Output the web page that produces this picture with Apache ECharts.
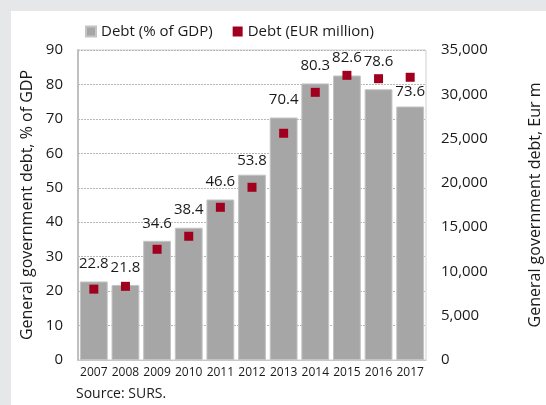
<!DOCTYPE html>
<html>
<head>
<meta charset="utf-8">
<script src="https://cdn.jsdelivr.net/npm/echarts@6/dist/echarts.min.js"></script>
<style>
body {
	margin: 0;
	background: #e6e7e8;
}
#main {
	position: absolute;
	left: 11px;
	top: 11px;
	width: 535px;
	height: 394px;
	background: #fff;
}
</style>
</head>
<body>
<div id="main"></div>
<script>
// data
const years = ['2007', '2008', '2009', '2010', '2011', '2012', '2013', '2014', '2015', '2016', '2017']
const debtPct = [22.8, 21.8, 34.6, 38.4, 46.6, 53.8, 70.4, 80.3, 82.6, 78.6, 73.6]
const debtEur = [8000, 8320, 12500, 13970, 17240, 19500, 25600, 30220, 32140, 31760, 31920]

// a few labels sit higher/lower in the original so they dodge the squares
const labelDist = { 5: 6, 9: 20, 10: 7 }

const font = 'Open Sans'
const chart = echarts.init(document.getElementById('main'))
chart.setOption({
	textStyle: { fontFamily: font },
	animation: false,
	legend: {
		left: 69,
		top: 8,
		itemWidth: 10,
		itemHeight: 10,
		itemGap: 20,
		textStyle: { fontSize: 15, color: '#1a1a1a' },
		data: [
			{ name: 'Debt (% of GDP)', icon: 'rect' },
			{ name: 'Debt (EUR million)', icon: 'rect' },
		],
	},
	grid: {
		left: 67,
		right: 120,
		top: 39,
		bottom: 45,
		outerBoundsMode: 'none',
		show: true,
		borderColor: '#cfcfcf',
		borderWidth: 1,
	},
	xAxis: {
		type: 'category',
		data: years,
		axisLine: { lineStyle: { color: '#c8c8c8' } },
		axisTick: { show: false },
		axisLabel: { fontSize: 12, color: '#1a1a1a', margin: 7, interval: 0 },
	},
	yAxis: [
		{
			type: 'value',
			min: 0,
			max: 90,
			interval: 10,
			name: 'General government debt, % of GDP',
			nameLocation: 'middle',
			nameGap: 41,
			nameTextStyle: { fontSize: 16, color: '#1a1a1a' },
			axisLine: { show: true, lineStyle: { color: '#c0c0c0', width: 2 } },
			axisTick: { show: false },
			axisLabel: { fontSize: 15, color: '#1a1a1a', margin: 15 },
			splitLine: { lineStyle: { color: '#b8b8b8', type: [2, 1] } },
		},
		{
			type: 'value',
			min: 0,
			max: 35000,
			interval: 5000,
			position: 'right',
			name: 'General government debt, Eur m',
			nameLocation: 'middle',
			nameGap: 101,
			nameRotate: 90,
			nameTextStyle: { fontSize: 16, color: '#1a1a1a' },
			axisLine: { show: false },
			axisTick: { show: false },
			splitLine: { show: false },
			axisLabel: {
				fontSize: 15,
				color: '#1a1a1a',
				margin: 15,
				formatter: (v) => v.toLocaleString('en-US'),
			},
		},
	],
	series: [
		{
			name: 'Debt (% of GDP)',
			type: 'bar',
			yAxisIndex: 0,
			z: 2,
			barCategoryGap: '12%',
			data: debtPct.map((v, i) => ({
				value: v,
				label: { distance: labelDist[i] != null ? labelDist[i] : 10 },
			})),
			itemStyle: { color: '#a6a6a6', borderColor: '#c4c4c4', borderWidth: 1 },
			label: {
				show: true,
				position: 'top',
				fontSize: 15,
				color: '#1a1a1a',
				formatter: (p) => p.value.toFixed(1),
			},
		},
		{
			name: 'Debt (EUR million)',
			type: 'scatter',
			yAxisIndex: 1,
			z: 3,
			symbol: 'rect',
			symbolSize: 9,
			data: debtEur,
			itemStyle: { color: '#a0001e', opacity: 1 },
		},
	],
	graphic: [
		{
			type: 'text',
			left: 65,
			top: 376,
			style: { text: 'Source: SURS.', font: '14px "Open Sans"', fill: '#1a1a1a' },
		},
	],
})
</script>
</body>
</html>
